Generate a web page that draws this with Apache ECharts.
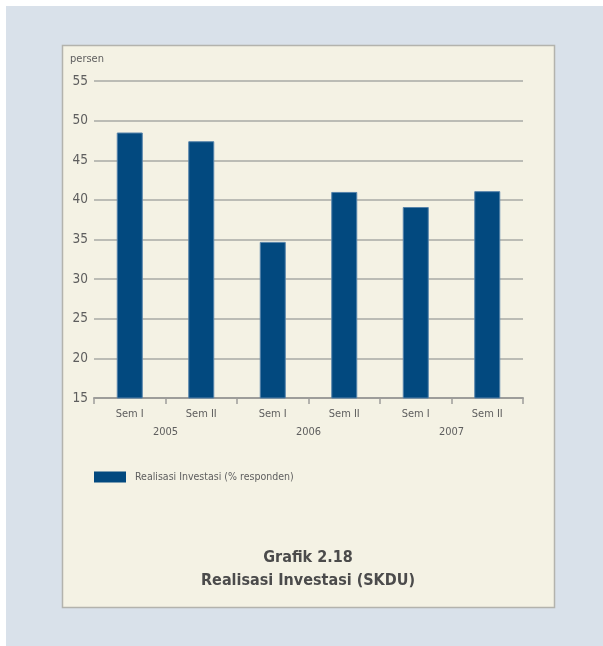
<!DOCTYPE html>
<html>
<head>
<meta charset="utf-8">
<style>
  html, body { margin: 0; padding: 0; background: #ffffff; }
  #chart { width: 603px; height: 646px; }
</style>
<script src="https://cdn.jsdelivr.net/npm/echarts@6/dist/echarts.min.js"></script>
</head>
<body>
<div id="chart"></div>
<script>
// Realisasi investasi per semester, survei kegiatan dunia usaha
const semesters = ['Sem I', 'Sem II', 'Sem I', 'Sem II', 'Sem I', 'Sem II'];
const years = ['2005', '2006', '2007'];
const realisasi = [48.5, 47.4, 34.7, 41.0, 39.1, 41.1];
const seriesName = 'Realisasi Investasi (% responden)';
const unitLabel = 'persen';
const titleLines = ['Grafik 2.18', 'Realisasi Investasi (SKDU)'];

// Pick the first condensed face that is actually installed
function pickFont(candidates, fallback) {
  const ctx = document.createElement('canvas').getContext('2d');
  const sample = 'Realisasi Investasi 0123456789';
  ctx.font = '40px monospace';
  const mono = ctx.measureText(sample).width;
  ctx.font = '40px serif';
  const serif = ctx.measureText(sample).width;
  for (const f of candidates) {
    ctx.font = '40px "' + f + '", monospace';
    const a = ctx.measureText(sample).width;
    ctx.font = '40px "' + f + '", serif';
    const b = ctx.measureText(sample).width;
    if (a !== mono || b !== serif) return '"' + f + '", ' + fallback;
  }
  return fallback;
}
const FONT = pickFont(['Liberation Sans Narrow', 'DejaVu Sans Condensed'], '"Liberation Sans", Arial, sans-serif');
const TEXT = '#5e5e5e';

const chart = echarts.init(document.getElementById('chart'), null, { renderer: 'canvas' });

chart.setOption({
  animation: false,
  textStyle: { fontFamily: FONT },
  graphic: [
    { type: 'rect', z: -100, silent: true,
      shape: { x: 6, y: 6, width: 597, height: 640 },
      style: { fill: '#d9e1ea' } },
    { type: 'rect', z: -99, silent: true,
      shape: { x: 62.5, y: 45.5, width: 492, height: 562 },
      style: { fill: '#f4f2e4', stroke: '#b3b3ad', lineWidth: 1.5 } },
    { type: 'text', z: 10, silent: true,
      style: { x: 70, y: 59, text: unitLabel, fill: TEXT, font: '11px ' + FONT,
               textVerticalAlign: 'middle' } }
  ],
  title: {
    text: titleLines.join('\n'),
    left: 308,
    top: 546,
    padding: 0,
    textAlign: 'center',
    textStyle: { fontFamily: FONT, fontWeight: 'bold', fontSize: 16, lineHeight: 23, color: '#4b4b4b' }
  },
  legend: {
    left: 94,
    top: 471.5,
    padding: 0,
    itemWidth: 32,
    itemHeight: 11,
    icon: 'rect',
    data: [{ name: seriesName, itemStyle: { borderWidth: 0 } }],
    textStyle: { fontFamily: FONT, fontSize: 10.5, color: TEXT, padding: [0, 0, 0, 4] }
  },
  grid: { left: 94, right: 80, top: 81, bottom: 248, containLabel: false },
  xAxis: [
    {
      type: 'category',
      data: semesters,
      boundaryGap: true,
      axisLine: { lineStyle: { color: '#9d9d9a', width: 2 } },
      axisTick: { show: true, alignWithLabel: false, length: 6, lineStyle: { color: '#9d9d9a', width: 1.5 } },
      axisLabel: { margin: 11, fontSize: 11, color: TEXT, fontFamily: FONT, interval: 0 }
    },
    {
      type: 'category',
      data: years,
      position: 'bottom',
      axisLine: { show: false },
      axisTick: { show: false },
      axisLabel: { margin: 29, fontSize: 11, color: TEXT, fontFamily: FONT }
    }
  ],
  yAxis: {
    type: 'value',
    min: 15,
    max: 55,
    interval: 5,
    axisLine: { show: false },
    axisTick: { show: false },
    axisLabel: { margin: 6, fontSize: 13.5, color: TEXT, fontFamily: FONT },
    splitLine: { lineStyle: { color: '#a9aaa6', width: 1.5 } }
  },
  series: [
    {
      name: seriesName,
      type: 'bar',
      xAxisIndex: 0,
      data: realisasi,
      barWidth: 26,
      itemStyle: { color: '#02497f', borderColor: '#5683aa', borderWidth: 1 }
    }
  ]
});
</script>
</body>
</html>
